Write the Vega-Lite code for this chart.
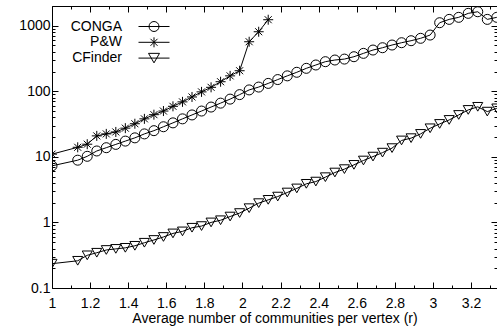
{
  "$schema": "https://vega.github.io/schema/vega-lite/v6.json",
  "width": 445,
  "height": 282,
  "autosize": {"type": "none"},
  "padding": {"left": 52, "top": 6, "right": 0, "bottom": 47},
  "background": "white",
  "config": {
    "view": {"stroke": null},
    "font": "Liberation Sans",
    "axis": {
      "grid": false,
      "domainColor": "black",
      "domainWidth": 1,
      "tickColor": "black",
      "tickWidth": 1,
      "labelColor": "black",
      "labelFont": "Liberation Sans",
      "labelFontSize": 14,
      "titleFont": "Liberation Sans",
      "titleFontSize": 14,
      "titleFontWeight": "normal",
      "titleColor": "black",
      "labelOverlap": false,
      "labelFlush": false
    }
  },
  "data": {
    "values": [
      {"s": "CONGA", "r": 1, "v": 7.3},
      {"s": "CONGA", "r": 1.135, "v": 8.9},
      {"s": "CONGA", "r": 1.185, "v": 10.2},
      {"s": "CONGA", "r": 1.235, "v": 12.3},
      {"s": "CONGA", "r": 1.285, "v": 13.8},
      {"s": "CONGA", "r": 1.335, "v": 15.5},
      {"s": "CONGA", "r": 1.385, "v": 17.4},
      {"s": "CONGA", "r": 1.435, "v": 19.5},
      {"s": "CONGA", "r": 1.485, "v": 22.4},
      {"s": "CONGA", "r": 1.535, "v": 25.1},
      {"s": "CONGA", "r": 1.585, "v": 28.8},
      {"s": "CONGA", "r": 1.635, "v": 33},
      {"s": "CONGA", "r": 1.685, "v": 38},
      {"s": "CONGA", "r": 1.735, "v": 43.6},
      {"s": "CONGA", "r": 1.785, "v": 50},
      {"s": "CONGA", "r": 1.835, "v": 57.5},
      {"s": "CONGA", "r": 1.885, "v": 66},
      {"s": "CONGA", "r": 1.935, "v": 76},
      {"s": "CONGA", "r": 1.985, "v": 89},
      {"s": "CONGA", "r": 2.035, "v": 105},
      {"s": "CONGA", "r": 2.085, "v": 116},
      {"s": "CONGA", "r": 2.135, "v": 132},
      {"s": "CONGA", "r": 2.185, "v": 151},
      {"s": "CONGA", "r": 2.235, "v": 172},
      {"s": "CONGA", "r": 2.285, "v": 195},
      {"s": "CONGA", "r": 2.335, "v": 224},
      {"s": "CONGA", "r": 2.385, "v": 252},
      {"s": "CONGA", "r": 2.435, "v": 283},
      {"s": "CONGA", "r": 2.485, "v": 300},
      {"s": "CONGA", "r": 2.535, "v": 310},
      {"s": "CONGA", "r": 2.585, "v": 337},
      {"s": "CONGA", "r": 2.635, "v": 379},
      {"s": "CONGA", "r": 2.685, "v": 426},
      {"s": "CONGA", "r": 2.735, "v": 462},
      {"s": "CONGA", "r": 2.785, "v": 508},
      {"s": "CONGA", "r": 2.835, "v": 551},
      {"s": "CONGA", "r": 2.885, "v": 591},
      {"s": "CONGA", "r": 2.935, "v": 643},
      {"s": "CONGA", "r": 2.985, "v": 721},
      {"s": "CONGA", "r": 3.035, "v": 1112},
      {"s": "CONGA", "r": 3.085, "v": 1250},
      {"s": "CONGA", "r": 3.135, "v": 1343},
      {"s": "CONGA", "r": 3.185, "v": 1545},
      {"s": "CONGA", "r": 3.235, "v": 1635},
      {"s": "CONGA", "r": 3.285, "v": 1250},
      {"s": "CONGA", "r": 3.335, "v": 1343},
      {"s": "P&W", "r": 1, "v": 11},
      {"s": "P&W", "r": 1.135, "v": 14},
      {"s": "P&W", "r": 1.185, "v": 15.6},
      {"s": "P&W", "r": 1.235, "v": 20.9},
      {"s": "P&W", "r": 1.285, "v": 22.4},
      {"s": "P&W", "r": 1.335, "v": 24},
      {"s": "P&W", "r": 1.385, "v": 27.4},
      {"s": "P&W", "r": 1.435, "v": 32},
      {"s": "P&W", "r": 1.485, "v": 38},
      {"s": "P&W", "r": 1.535, "v": 44},
      {"s": "P&W", "r": 1.585, "v": 50},
      {"s": "P&W", "r": 1.635, "v": 59},
      {"s": "P&W", "r": 1.685, "v": 69},
      {"s": "P&W", "r": 1.735, "v": 82},
      {"s": "P&W", "r": 1.785, "v": 98},
      {"s": "P&W", "r": 1.835, "v": 115},
      {"s": "P&W", "r": 1.885, "v": 140},
      {"s": "P&W", "r": 1.935, "v": 172},
      {"s": "P&W", "r": 1.985, "v": 206},
      {"s": "P&W", "r": 2.035, "v": 570},
      {"s": "P&W", "r": 2.085, "v": 810},
      {"s": "P&W", "r": 2.135, "v": 1235},
      {"s": "CFinder", "r": 1, "v": 0.235},
      {"s": "CFinder", "r": 1.135, "v": 0.26},
      {"s": "CFinder", "r": 1.185, "v": 0.315},
      {"s": "CFinder", "r": 1.235, "v": 0.345},
      {"s": "CFinder", "r": 1.285, "v": 0.38},
      {"s": "CFinder", "r": 1.335, "v": 0.395},
      {"s": "CFinder", "r": 1.385, "v": 0.41},
      {"s": "CFinder", "r": 1.435, "v": 0.44},
      {"s": "CFinder", "r": 1.485, "v": 0.49},
      {"s": "CFinder", "r": 1.535, "v": 0.54},
      {"s": "CFinder", "r": 1.585, "v": 0.6},
      {"s": "CFinder", "r": 1.635, "v": 0.68},
      {"s": "CFinder", "r": 1.685, "v": 0.73},
      {"s": "CFinder", "r": 1.735, "v": 0.83},
      {"s": "CFinder", "r": 1.785, "v": 0.88},
      {"s": "CFinder", "r": 1.835, "v": 1.0},
      {"s": "CFinder", "r": 1.885, "v": 1.08},
      {"s": "CFinder", "r": 1.935, "v": 1.23},
      {"s": "CFinder", "r": 1.985, "v": 1.39},
      {"s": "CFinder", "r": 2.035, "v": 1.65},
      {"s": "CFinder", "r": 2.085, "v": 1.97},
      {"s": "CFinder", "r": 2.135, "v": 2.21},
      {"s": "CFinder", "r": 2.185, "v": 2.48},
      {"s": "CFinder", "r": 2.235, "v": 2.86},
      {"s": "CFinder", "r": 2.285, "v": 3.3},
      {"s": "CFinder", "r": 2.335, "v": 3.88},
      {"s": "CFinder", "r": 2.385, "v": 4.2},
      {"s": "CFinder", "r": 2.435, "v": 4.9},
      {"s": "CFinder", "r": 2.485, "v": 5.77},
      {"s": "CFinder", "r": 2.535, "v": 6.5},
      {"s": "CFinder", "r": 2.585, "v": 7.55},
      {"s": "CFinder", "r": 2.635, "v": 8.8},
      {"s": "CFinder", "r": 2.685, "v": 10.1},
      {"s": "CFinder", "r": 2.735, "v": 11.6},
      {"s": "CFinder", "r": 2.785, "v": 13.6},
      {"s": "CFinder", "r": 2.835, "v": 17.8},
      {"s": "CFinder", "r": 2.885, "v": 19.3},
      {"s": "CFinder", "r": 2.935, "v": 22.4},
      {"s": "CFinder", "r": 2.985, "v": 27.3},
      {"s": "CFinder", "r": 3.035, "v": 31.8},
      {"s": "CFinder", "r": 3.085, "v": 36.6},
      {"s": "CFinder", "r": 3.135, "v": 43.6},
      {"s": "CFinder", "r": 3.185, "v": 52},
      {"s": "CFinder", "r": 3.235, "v": 58},
      {"s": "CFinder", "r": 3.285, "v": 49},
      {"s": "CFinder", "r": 3.335, "v": 55}
    ]
  },
  "layer": [
    {
      "mark": {"type": "line", "color": "black", "strokeWidth": 1, "clip": true},
      "encoding": {
        "x": {
          "field": "r", "type": "quantitative",
          "scale": {"domain": [1, 3.336], "nice": false, "zero": false},
          "axis": {
            "orient": "bottom",
            "title": "Average number of communities per vertex (r)",
            "titlePadding": -2,
            "values": [1,1.1,1.2,1.3,1.4,1.5,1.6,1.7,1.8,1.9,2,2.1,2.2,2.3,2.4,2.5,2.6,2.7,2.8,2.9,3,3.1,3.2,3.3],
            "labelExpr": "abs(datum.value*5 - round(datum.value*5)) < 0.01 ? format(datum.value, '~g') : ''",
            "tickSize": {"condition": {"test": "abs(datum.value*5 - round(datum.value*5)) < 0.01", "value": -6}, "value": -3},
            "labelPadding": 14
          }
        },
        "y": {
          "field": "v", "type": "quantitative",
          "scale": {"type": "log", "domain": [0.1, 2000], "nice": false},
          "axis": {
            "orient": "left",
            "title": null,
            "values": [0.1,0.2,0.3,0.4,0.5,0.6,0.7,0.8,0.9,1,2,3,4,5,6,7,8,9,10,20,30,40,50,60,70,80,90,100,200,300,400,500,600,700,800,900,1000,2000],
            "labelExpr": "abs(log(datum.value)/LN10 - round(log(datum.value)/LN10)) < 0.01 ? format(datum.value, '~g') : ''",
            "tickSize": {"condition": {"test": "abs(log(datum.value)/LN10 - round(log(datum.value)/LN10)) < 0.01", "value": -6}, "value": -3},
            "labelPadding": 8
          }
        },
        "detail": {"field": "s"}
      }
    },
    {
      "mark": {"type": "point", "filled": false, "color": "black", "strokeWidth": 1, "size": 100, "opacity": 1, "clip": true},
      "encoding": {
        "x": {"field": "r", "type": "quantitative", "axis": null},
        "y": {"field": "v", "type": "quantitative", "axis": null},
        "shape": {
          "field": "s", "type": "nominal",
          "scale": {
            "domain": ["CONGA", "P&W", "CFinder"],
            "range": ["circle", "M-1,0H1M0,-1V1M-0.7,-0.7L0.7,0.7M-0.7,0.7L0.7,-0.7", "triangle-down"]
          },
          "legend": null
        }
      }
    },
    {
      "transform": [{"filter": "false"}],
      "mark": {"type": "point", "filled": false, "color": "black", "strokeWidth": 1, "size": 100, "opacity": 1},
      "encoding": {
        "x": {"field": "r", "type": "quantitative", "axis": null},
        "y": {"field": "v", "type": "quantitative", "axis": null},
        "shape": {
          "field": "s", "type": "nominal",
          "scale": {
            "domain": ["CONGA", "P&W", "CFinder"],
            "range": [
              "M-3.1,0H3.1M1,0A1,1,0,1,1,-1,0A1,1,0,1,1,1,0",
              "M-3.1,0H3.1M0,-1V1M-0.7,-0.7L0.7,0.7M-0.7,0.7L0.7,-0.7",
              "M-3.1,0H3.1M-1.1,-0.95L1.1,-0.95L0,0.95Z"
            ]
          },
          "legend": {
            "orient": "none",
            "legendX": 95,
            "legendY": 13.5,
            "title": null,
            "padding": 0,
            "rowPadding": 1.8,
            "labelAlign": "right",
            "labelOffset": -39,
            "labelFontSize": 14,
            "labelFont": "Liberation Sans",
            "labelColor": "black",
            "labelLimit": 0,
            "symbolSize": 100,
            "symbolStrokeColor": "black",
            "symbolFillColor": "transparent",
            "symbolStrokeWidth": 1,
            "symbolOpacity": 1
          }
        }
      }
    },
    {
      "mark": {"type": "point", "opacity": 0},
      "encoding": {
        "x": {
          "field": "r", "type": "quantitative",
          "axis": {
            "orient": "top",
            "title": null,
            "labels": false,
            "values": [1,1.1,1.2,1.3,1.4,1.5,1.6,1.7,1.8,1.9,2,2.1,2.2,2.3,2.4,2.5,2.6,2.7,2.8,2.9,3,3.1,3.2,3.3],
            "tickSize": {"condition": {"test": "abs(datum.value*5 - round(datum.value*5)) < 0.01", "value": -6}, "value": -3}
          }
        },
        "y": {
          "field": "v", "type": "quantitative",
          "axis": {
            "orient": "right",
            "title": null,
            "labels": false,
            "domain": false,
            "values": [0.1,0.2,0.3,0.4,0.5,0.6,0.7,0.8,0.9,1,2,3,4,5,6,7,8,9,10,20,30,40,50,60,70,80,90,100,200,300,400,500,600,700,800,900,1000,2000],
            "tickSize": {"condition": {"test": "abs(log(datum.value)/LN10 - round(log(datum.value)/LN10)) < 0.01", "value": -6}, "value": -3}
          }
        }
      }
    }
  ],
  "resolve": {"axis": {"x": "independent", "y": "independent"}, "scale": {"shape": "independent"}}
}
